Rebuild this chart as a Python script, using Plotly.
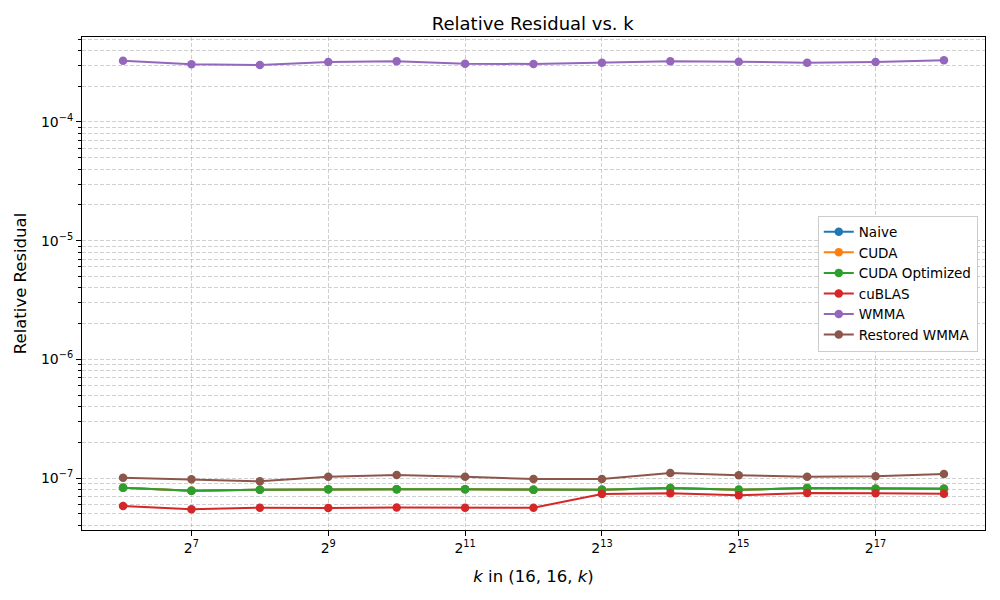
import plotly.graph_objects as go

k_exp = [6, 7, 8, 9, 10, 11, 12, 13, 14, 15, 16, 17, 18]
k_vals = [2 ** e for e in k_exp]

naive = [8.29e-8, 7.82e-8, 7.97e-8, 8.03e-8, 8.03e-8, 8.03e-8, 7.97e-8, 7.97e-8, 8.24e-8, 7.95e-8, 8.24e-8, 8.13e-8, 8.13e-8]
cuda = [8.29e-8, 7.82e-8, 7.97e-8, 8.03e-8, 8.03e-8, 8.03e-8, 7.97e-8, 7.97e-8, 8.24e-8, 7.95e-8, 8.24e-8, 8.13e-8, 8.13e-8]
cuda_opt = [8.29e-8, 7.82e-8, 7.97e-8, 8.03e-8, 8.03e-8, 8.03e-8, 7.97e-8, 7.97e-8, 8.24e-8, 7.95e-8, 8.24e-8, 8.13e-8, 8.13e-8]
cublas = [5.81e-8, 5.45e-8, 5.62e-8, 5.58e-8, 5.64e-8, 5.62e-8, 5.62e-8, 7.33e-8, 7.43e-8, 7.15e-8, 7.47e-8, 7.43e-8, 7.37e-8]
wmma = [3.28e-4, 3.06e-4, 3.02e-4, 3.20e-4, 3.25e-4, 3.10e-4, 3.08e-4, 3.16e-4, 3.25e-4, 3.22e-4, 3.16e-4, 3.20e-4, 3.31e-4]
restored = [1.006e-7, 0.975e-7, 0.938e-7, 1.026e-7, 1.06e-7, 1.026e-7, 0.98e-7, 0.98e-7, 1.10e-7, 1.054e-7, 1.026e-7, 1.034e-7, 1.08e-7]

series = [
    ("Naive", naive, "#1f77b4"),
    ("CUDA", cuda, "#ff7f0e"),
    ("CUDA Optimized", cuda_opt, "#2ca02c"),
    ("cuBLAS", cublas, "#d62728"),
    ("WMMA", wmma, "#9467bd"),
    ("Restored WMMA", restored, "#8c564b"),
]

x_tick_exp = [7, 9, 11, 13, 15, 17]
y_tick_exp = [-7, -6, -5, -4]

fig = go.Figure()
for name, vals, color in series:
    fig.add_trace(go.Scatter(
        x=k_vals, y=vals, name=name, mode="lines+markers",
        line=dict(color=color, width=2),
        marker=dict(color=color, size=8.5),
    ))

minor_y = [m * 10 ** d for d in range(-8, -2) for m in range(2, 10)]

grid_color = "rgba(176,176,176,0.6)"
grid_dash = "4px,2px"
fig.update_layout(
    width=992, height=592,
    margin=dict(l=74, r=15, t=29, b=70),
    paper_bgcolor="white", plot_bgcolor="white",
    font=dict(family="DejaVu Sans", size=14, color="black"),
    title=dict(text="Relative Residual vs. k", x=0.529, xanchor="center", y=0.974, yanchor="middle",
               font=dict(size=18)),
    legend=dict(x=0.992, xanchor="right", y=0.5, yanchor="middle",
                bgcolor="white", bordercolor="#cccccc", borderwidth=1,
                font=dict(size=13.5), tracegroupgap=0),
    showlegend=True,
)
fig.update_xaxes(
    type="log",
    range=[5.4 * 0.30103, 18.6 * 0.30103],
    tickvals=[2 ** e for e in x_tick_exp],
    ticktext=[f"2<sup>{e}</sup>" for e in x_tick_exp],
    showgrid=True, gridcolor=grid_color, griddash=grid_dash, gridwidth=1,
    ticks="outside", ticklen=5, tickcolor="black",
    showline=True, linecolor="black", linewidth=1, mirror=True,
    zeroline=False, automargin=False,
    title=dict(text="<i>k</i> in (16, 16, <i>k</i>)", font=dict(size=16.5), standoff=15),
)
fig.update_yaxes(
    type="log",
    range=[-7.438, -3.284],
    tickvals=[10 ** e for e in y_tick_exp],
    ticktext=[f"10<sup>\u2212{-e}</sup>" for e in y_tick_exp],
    showgrid=True, gridcolor=grid_color, griddash=grid_dash, gridwidth=1,
    ticks="outside", ticklen=5, tickcolor="black",
    minor=dict(tickvals=minor_y, showgrid=True, gridcolor=grid_color, griddash=grid_dash,
               ticks="outside", ticklen=3, tickcolor="black"),
    showline=True, linecolor="black", linewidth=1, mirror=True,
    zeroline=False, automargin=False,
    title=dict(text="Relative Residual", font=dict(size=16.5), standoff=10),
)

fig.write_html("out.html")
